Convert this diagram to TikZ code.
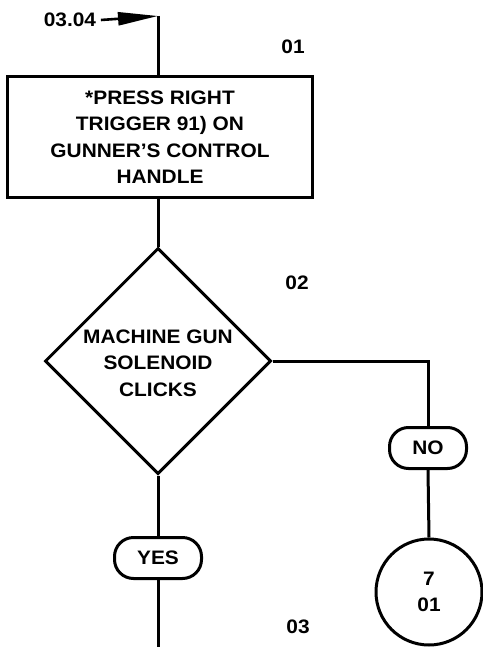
\documentclass[tikz,border=0pt]{standalone}
\usepackage{fontspec}
\setmainfont{Liberation Sans}[FakeStretch=1.07]
\usepackage{tikz}
\usetikzlibrary{shapes.geometric}
\usetikzlibrary{arrows.meta}

\begin{document}
\begin{tikzpicture}[x=1pt,y=-1pt,line width=3pt,
    every node/.style={font=\fontsize{19.5}{26.5}\selectfont\bfseries},
    box/.style={draw,rectangle,minimum width=305pt,minimum height=121pt,align=center,inner sep=0pt},
    decision/.style={draw,diamond,minimum width=226pt,minimum height=226pt,inner sep=0pt},
    oval/.style={draw,rectangle,rounded corners=19pt,minimum height=41pt,inner sep=0pt},
    conn/.style={draw,circle,minimum size=106pt,align=center,inner sep=0pt}]
    \useasboundingbox (0,0) rectangle (482,647);

    % Place the nodes
    \node (in) at (70,20) {03.04};
    \coordinate (top) at (158,16);
    \node[box] (b01) at (160,137) {*PRESS RIGHT\\TRIGGER 91) ON\\GUNNER’S CONTROL\\HANDLE};
    \node[decision] (d02) at (158,361) {};
    \node[align=center] (d02t) at (158,363) {MACHINE GUN\\SOLENOID\\CLICKS};
    \node[oval,minimum width=77pt] (no) at (428,448) {NO};
    \node[conn] (c701) at (429,592) {7\\01};
    \node[oval,minimum width=87pt] (yes) at (158,558) {YES};
    \coordinate (bot) at (158,647);

    % Step numbers
    \node (s01) at (293,47) {01};
    \node (s02) at (297,283) {02};
    \node (s03) at (298,627) {03};

    % Draw the lines
    \draw[-{Triangle[length=40pt,width=13pt]},line width=2.6pt] (in.east) -- (top);
    \draw (top) -- (top |- b01.north);
    \draw (top |- b01.south) -- (d02.north);
    \draw (d02.east) -| (no.north);
    \draw (no.south) -- (c701.north);
    \draw (d02.south) -- (yes.north);
    \draw (yes.south) -- (bot);

\end{tikzpicture}
\end{document}
